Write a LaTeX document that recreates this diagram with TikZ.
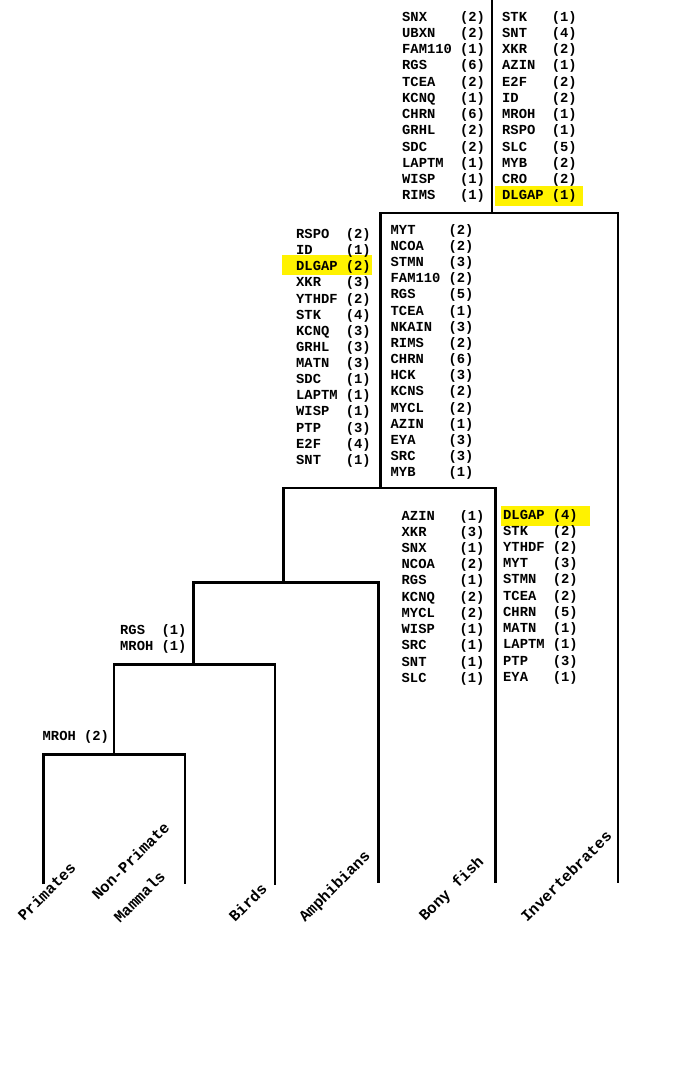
\documentclass[tikz,border=0pt]{standalone}
\usepackage{fontspec}
\newfontfamily\genefont{Liberation Mono}
% one column of gene families: prefix, x, first baseline, row step, name width, entries
\newcommand\genelist[6]{%
  \foreach \gname/\gcnt [count=\i] in {#6}
    \node[gene] (#1\i) at (#2, {#3+(\i-1)*#4}) {\makebox[#5][l]{\gname}(\gcnt)};%
}
\begin{document}
\begin{tikzpicture}[x=1pt,y=-1pt,
  branch/.style={line width=2.8pt},
  gene/.style={font=\genefont\bfseries\fontsize{13.8}{16}\selectfont, inner sep=0pt, anchor=base west},
  taxon/.style={font=\genefont\bfseries\fontsize{15.5}{18}\selectfont, inner sep=0pt, anchor=base west, rotate=45},
  hilite/.style={fill=yellow}]
\useasboundingbox (0,0) rectangle (689,1084);

% highlighted DLGAP entries
\fill[hilite] (495,186) rectangle (583.3,206);
\fill[hilite] (281.7,255) rectangle (371.7,275);
\fill[hilite] (501,506) rectangle (590,526);

% tree junctions and tips
\coordinate (root) at (492,0);
\coordinate (j0) at (492,213);
\coordinate (j1) at (380.7,488);
\coordinate (j2) at (283.3,582.8);
\coordinate (j3) at (193.3,664.7);
\coordinate (j4) at (114,754.7);
\coordinate (tPrim) at (43.3,884);
\coordinate (tNonP) at (185,884);
\coordinate (tBird) at (275,885);
\coordinate (tAmph) at (378.3,883);
\coordinate (tFish) at (495.5,883);
\coordinate (tInv) at (618,883);

\draw[branch] (root) -- (j0);
\draw[branch] (j1) |- (j0) -| (tInv);
\draw[branch] (j2) |- (j1) -| (tFish);
\draw[branch] (j3) |- (j2) -| (tAmph);
\draw[branch] (j4) |- (j3) -| (tBird);
\draw[branch] (tPrim) |- (j4) -| (tNonP);

% gene families gained/lost on each branch
\genelist{tl}{402}{21}{16.27}{4.2em}{SNX/2,UBXN/2,FAM110/1,RGS/6,TCEA/2,KCNQ/1,CHRN/6,GRHL/2,SDC/2,LAPTM/1,WISP/1,RIMS/1}
\genelist{tr}{502}{21}{16.27}{3.6em}{STK/1,SNT/4,XKR/2,AZIN/1,E2F/2,ID/2,MROH/1,RSPO/1,SLC/5,MYB/2,CRO/2,DLGAP/1}
\genelist{ml}{296}{238.5}{16.13}{3.6em}{RSPO/2,ID/1,DLGAP/2,XKR/3,YTHDF/2,STK/4,KCNQ/3,GRHL/3,MATN/3,SDC/1,LAPTM/1,WISP/1,PTP/3,E2F/4,SNT/1}
\genelist{mr}{390.5}{234.3}{16.16}{4.2em}{MYT/2,NCOA/2,STMN/3,FAM110/2,RGS/5,TCEA/1,NKAIN/3,RIMS/2,CHRN/6,HCK/3,KCNS/2,MYCL/2,AZIN/1,EYA/3,SRC/3,MYB/1}
\genelist{ll}{401.5}{520}{16.23}{4.2em}{AZIN/1,XKR/3,SNX/1,NCOA/2,RGS/1,KCNQ/2,MYCL/2,WISP/1,SRC/1,SNT/1,SLC/1}
\genelist{lr}{503}{519}{16.23}{3.6em}{DLGAP/4,STK/2,YTHDF/2,MYT/3,STMN/2,TCEA/2,CHRN/5,MATN/1,LAPTM/1,PTP/3,EYA/1}
\genelist{bd}{120}{634}{16}{3.0em}{RGS/1,MROH/1}
\genelist{mm}{42.5}{740.7}{16}{3.0em}{MROH/2}

% taxa
\node[taxon] (lPrim) at (24,922) {Primates};
\node[taxon] (lNonP) at (98,901) {Non-Primate};
\node[taxon] (lMamm) at (120,924) {Mammals};
\node[taxon] (lBird) at (235,923) {Birds};
\node[taxon] (lAmph) at (305,923) {Amphibians};
\node[taxon] (lFish) at (425,922) {Bony fish};
\node[taxon] (lInv) at (527,923) {Invertebrates};
\end{tikzpicture}
\end{document}
